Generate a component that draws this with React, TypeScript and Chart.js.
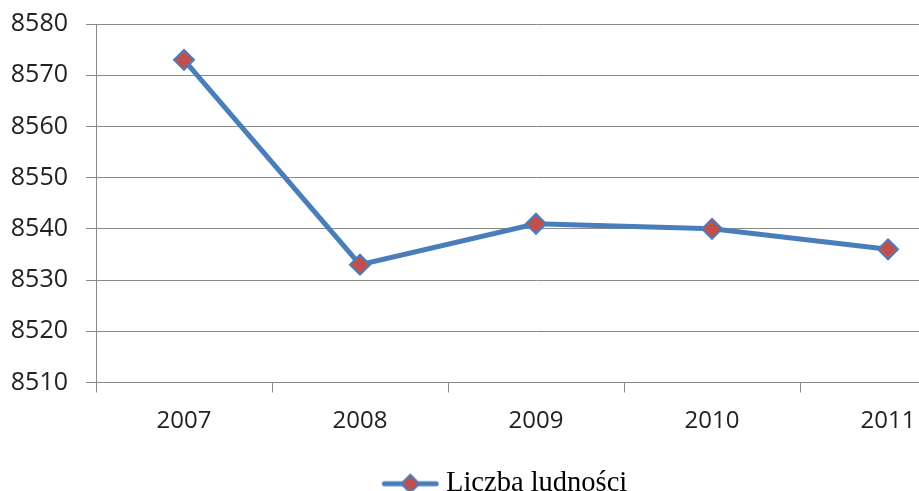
import React, { useEffect, useRef } from "react";
import { Chart, registerables } from "chart.js";

Chart.register(...registerables);

const years = ["2007", "2008", "2009", "2010", "2011"];
const population = [8573, 8533, 8541, 8540, 8536];
const seriesLabel = "Liczba ludności";
const yMin = 8510;
const yMax = 8580;
const yStep = 10;

const LINE_BLUE = "#4a7ebb";
const MARKER_RED = "#c0504d";
const GRID_GRAY = "#8a8a8a";

// Legend symbol: a short line with a diamond marker, drawn right of the image centre
function makeLegendSymbol(): HTMLCanvasElement {
  const shift = 28;
  const c = document.createElement("canvas");
  c.width = 58 + shift;
  c.height = 24;
  const ctx = c.getContext("2d")!;
  ctx.translate(shift, 0);
  ctx.strokeStyle = LINE_BLUE;
  ctx.lineWidth = 5;
  ctx.lineCap = "round";
  ctx.beginPath();
  ctx.moveTo(3, 12);
  ctx.lineTo(55, 12);
  ctx.stroke();
  const r = 9;
  ctx.beginPath();
  ctx.moveTo(29 - r, 12);
  ctx.lineTo(29, 12 - r);
  ctx.lineTo(29 + r, 12);
  ctx.lineTo(29, 12 + r);
  ctx.closePath();
  ctx.fillStyle = MARKER_RED;
  ctx.fill();
  ctx.lineWidth = 2;
  ctx.strokeStyle = LINE_BLUE;
  ctx.stroke();
  return c;
}

export default function App() {
  const canvasRef = useRef<HTMLCanvasElement | null>(null);

  useEffect(() => {
    if (!canvasRef.current) return;
    const symbol = makeLegendSymbol();
    const chart = new Chart(canvasRef.current, {
      type: "line",
      data: {
        labels: years,
        datasets: [
          {
            label: seriesLabel,
            data: population,
            borderColor: LINE_BLUE,
            borderWidth: 5,
            pointStyle: "rectRot",
            pointRadius: 10,
            pointBackgroundColor: MARKER_RED,
            pointBorderColor: LINE_BLUE,
            pointBorderWidth: 2,
            tension: 0,
          },
        ],
      },
      options: {
        animation: false,
        responsive: false,
        maintainAspectRatio: false,
        layout: { padding: { top: 24, right: 0, bottom: 0, left: 0 } },
        plugins: {
          tooltip: { enabled: false },
          legend: {
            display: true,
            position: "bottom",
            labels: {
              usePointStyle: true,
              pointStyleWidth: 71,
              padding: 10,
              color: "#000",
              font: { family: "'Liberation Serif', 'Times New Roman', serif", size: 28.5 },
              generateLabels: () => [
                {
                  text: seriesLabel,
                  pointStyle: symbol as any,
                  fillStyle: MARKER_RED,
                  strokeStyle: LINE_BLUE,
                  lineWidth: 0,
                  hidden: false,
                  datasetIndex: 0,
                },
              ],
            },
          },
        },
        scales: {
          x: {
            offset: true,
            border: { display: true, color: GRID_GRAY, width: 1 },
            grid: {
              offset: true,
              drawOnChartArea: false,
              drawTicks: true,
              tickLength: 10,
              color: GRID_GRAY,
            },
            ticks: {
              color: "#222",
              padding: 14,
              font: { family: "'Open Sans', sans-serif", size: 24 },
            },
            afterFit: (scale: any) => {
              scale.height = 77;
              scale.paddingLeft = 0;
              scale.paddingRight = 0;
            },
          },
          y: {
            min: yMin,
            max: yMax,
            border: { display: true, color: GRID_GRAY, width: 1 },
            grid: {
              color: GRID_GRAY,
              lineWidth: 1,
              tickLength: 10,
            },
            ticks: {
              stepSize: yStep,
              color: "#222",
              padding: 18,
              font: { family: "'Open Sans', sans-serif", size: 25 },
              callback: (v: any) => String(v),
            },
            afterFit: (scale: any) => {
              scale.width = 96;
              scale.paddingTop = 0;
              scale.paddingBottom = 0;
            },
          },
        },
      },
    });
    return () => chart.destroy();
  }, []);

  return (
    <div
      style={{
        position: "absolute",
        left: 0,
        top: 0,
        width: 919,
        height: 491,
        overflow: "hidden",
        background: "#fff",
      }}
    >
      <canvas ref={canvasRef} width={988} height={508} style={{ display: "block" }} />
    </div>
  );
}
